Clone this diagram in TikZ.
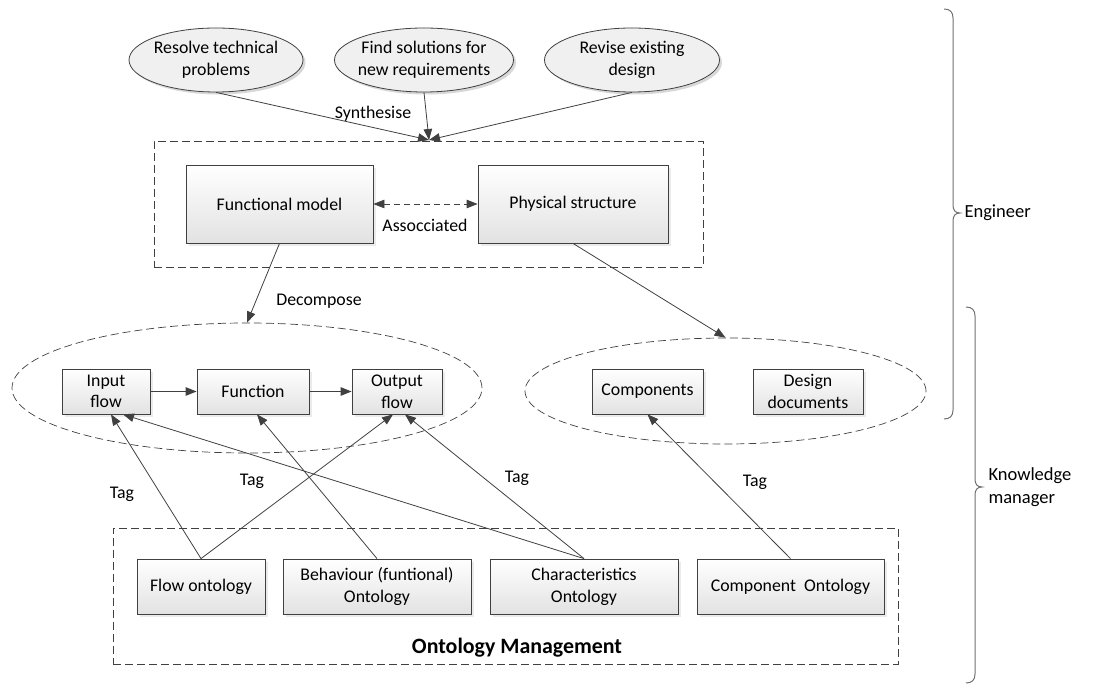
\documentclass[tikz,border=0pt]{standalone}
\usepackage{fontspec}
\setmainfont{Carlito}
\usetikzlibrary{shapes.geometric,arrows.meta,shadows}
\definecolor{edgegray}{HTML}{404040}
\definecolor{fillbot}{HTML}{E2E2E2}
\definecolor{ovalfill}{HTML}{F0F0F0}
\definecolor{shadowgray}{HTML}{D8D8D8}
\definecolor{bracegray}{HTML}{707070}
\begin{document}
\begin{tikzpicture}[x=1pt,y=-1pt,
  every node/.style={font=\fontsize{17.8}{21.7}\selectfont, text=black},
  box/.style={rectangle, draw=edgegray, line width=0.8pt, top color=white, bottom color=fillbot,
    inner sep=0pt, align=center,
    drop shadow={shadow xshift=3pt, shadow yshift=-3pt, fill=shadowgray}},
  oval/.style={ellipse, draw=edgegray, line width=0.8pt, fill=ovalfill, inner sep=0pt},
  ovalshadow/.style={ellipse, fill=shadowgray, inner sep=0pt},
  groupbox/.style={rectangle, draw=edgegray, line width=0.7pt, dash pattern=on 8pt off 4pt, inner sep=0pt},
  groupoval/.style={ellipse, draw=edgegray, line width=0.7pt, dash pattern=on 8pt off 4pt, inner sep=0pt},
  arr/.style={draw=edgegray, line width=0.8pt, -{Triangle[length=11pt,width=8.5pt]}},
  lbl/.style={inner sep=1pt},
  rolelbl/.style={anchor=west, align=left, font=\fontsize{18.5}{22.5}\selectfont},
  bracepath/.style={draw=bracegray, line width=1pt}
]
\useasboundingbox (0,0) rectangle (1098,684);

% group outlines
\node[groupbox, minimum width=549, minimum height=126] (design) at (428.5,204) {};
\node[groupbox, minimum width=785, minimum height=136] (ontmgmt) at (505.5,596) {};
\node[groupoval, minimum width=470, minimum height=130] (flowgrp) at (247,388) {};
\node[groupoval, minimum width=401, minimum height=106] (docgrp) at (725.5,391) {};

% design goals (shadow first, then the oval, then its text)
\node[ovalshadow, minimum width=174, minimum height=64] (goalAs) at (218.5,62.5) {};
\node[oval, minimum width=174, minimum height=64] (goalA) at (216,60) {};
\node[align=center] (goalAt) at (goalA) {Resolve technical\\problems};
\node[ovalshadow, minimum width=179, minimum height=64] (goalBs) at (426.5,62.5) {};
\node[oval, minimum width=179, minimum height=64] (goalB) at (424,60) {};
\node[align=center] (goalBt) at (goalB) {Find solutions for\\new requirements};
\node[ovalshadow, minimum width=175, minimum height=64] (goalCs) at (634.5,62.5) {};
\node[oval, minimum width=175, minimum height=64] (goalC) at (632,60) {};
\node[align=center] (goalCt) at (goalC) {Revise existing\\design};

% design models
\node[box, minimum width=187, minimum height=78] (fm) at (279.5,204) {Functional model};
\node[box, minimum width=190, minimum height=78] (ps) at (573,204) {Physical structure};

% decomposition
\node[box, minimum width=88, minimum height=45] (inflow) at (106,391.5) {Input\\flow};
\node[box, minimum width=112, minimum height=45] (func) at (253,391.5) {Function};
\node[box, minimum width=90, minimum height=45] (outflow) at (397,391.5) {Output\\flow};
\node[box, minimum width=111, minimum height=45] (comps) at (647.5,391.5) {Components};
\node[box, minimum width=110, minimum height=45] (docs) at (808,391.5) {Design\\documents};

% ontologies
\node[box, minimum width=128, minimum height=55] (flowont) at (201,586.5) {Flow ontology};
\node[box, minimum width=188, minimum height=55] (behont) at (377,586.5) {Behaviour (funtional)\\Ontology};
\node[box, minimum width=188, minimum height=55] (charont) at (584,586.5) {Characteristics\\Ontology};
\node[box, minimum width=187, minimum height=55] (compont) at (790.5,586.5) {Component\ \ Ontology};
\node[font=\fontsize{21.9}{26}\selectfont\bfseries] (omtitle) at (517,648) {Ontology Management};

% synthesis
\coordinate (syn) at (429,140);
\draw[arr] (goalA.south) -- (syn);
\draw[arr] (goalB.south) -- (syn);
\draw[arr] (goalC.south) -- (syn);
\node[lbl] (synl) at (373,114) {Synthesise};

% association
\draw[draw=edgegray, line width=0.8pt, dash pattern=on 6pt off 4pt,
  {Triangle[length=11pt,width=8.5pt]}-{Triangle[length=11pt,width=8.5pt]}] (fm.east) -- (ps.west);
\node[lbl] (assl) at (425,225) {Assocciated};

% decomposition and realisation
\draw[arr] (fm.south) -- (flowgrp.north);
\node[lbl] (decl) at (319,301) {Decompose};
\draw[arr] (ps.south) -- (docgrp.north);

% flow chain
\draw[arr] (inflow.east) -- (func.west);
\draw[arr] (func.east) -- (outflow.west);

% tagging
\draw[arr] (flowont.north) -- ([xshift=5pt]inflow.south);
\draw[arr] (flowont.north) -- ([xshift=-4pt]outflow.south);
\draw[arr] (behont.north) -- ([xshift=4pt]func.south);
\draw[arr] (charont.north) -- ([xshift=17pt]inflow.south);
\draw[arr] (charont.north) -- ([xshift=8pt]outflow.south);
\draw[arr] (compont.north) -- (comps.south);
\node[lbl] (tag1) at (122,494) {Tag};
\node[lbl] (tag2) at (252,481) {Tag};
\node[lbl] (tag3) at (517,478) {Tag};
\node[lbl] (tag4) at (755,482) {Tag};

% roles
\draw[bracepath] (944,9) .. controls (950,9) and (953,12) .. (953,18) -- (953,205)
  .. controls (953,210) and (955,213) .. (960,213)
  .. controls (955,213) and (953,216) .. (953,221) -- (953,410)
  .. controls (953,416) and (950,419) .. (944,419);
\node[rolelbl] (engl) at (961,213) {Engineer};
\draw[bracepath] (966,307) .. controls (972,307) and (975,310) .. (975,316) -- (975,479)
  .. controls (975,484) and (977,487) .. (982,487)
  .. controls (977,487) and (975,490) .. (975,495) -- (975,674)
  .. controls (975,680) and (972,683) .. (966,683);
\node[rolelbl] (kml) at (985,487) {Knowledge\\manager};
\end{tikzpicture}
\end{document}
